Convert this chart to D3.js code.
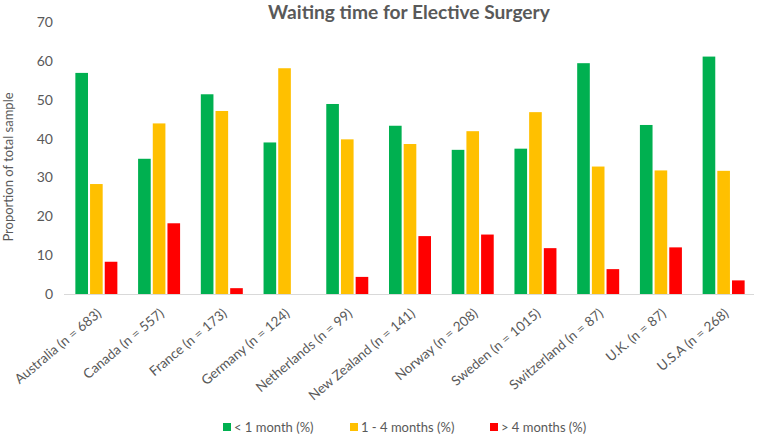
<!DOCTYPE html>
<html><head><meta charset="utf-8">
<script src="https://cdn.jsdelivr.net/npm/d3@7"></script>
<style>html,body{margin:0;padding:0;background:#fff;}</style>
</head><body>
<svg id="c" width="758" height="436"></svg>
<script>
const categories = ["Australia (n = 683)","Canada (n = 557)","France (n = 173)","Germany (n = 124)","Netherlands (n = 99)","New Zealand (n = 141)","Norway (n = 208)","Sweden (n = 1015)","Switzerland (n = 87)","U.K. (n = 87)","U.S.A (n = 268)"];
const seriesNames = ["< 1 month (%)","1 - 4 months (%)","> 4 months (%)"];
const lessThan1 = [56.9, 34.8, 51.4, 39.0, 48.9, 43.3, 37.1, 37.4, 59.4, 43.5, 61.1];
const oneToFour = [28.3, 43.9, 47.1, 58.1, 39.8, 38.6, 41.9, 46.8, 32.8, 31.8, 31.7];
const moreThan4 = [8.3, 18.2, 1.5, 0, 4.4, 14.9, 15.3, 11.8, 6.4, 12.0, 3.5];
const yTicks = [0,10,20,30,40,50,60,70];
const colors = ["#00B050","#FFC000","#FF0000"];
const title = "Waiting time for Elective Surgery";
const yTitle = "Proportion of total sample";

const series = [lessThan1, oneToFour, moreThan4];
const font = "Lato, 'Open Sans', sans-serif";
const svg = d3.select("#c");
const M = {left:64, right:754, top:22, bottom:294};

const x = d3.scaleBand().domain(categories).range([M.left, M.right]).paddingInner(0).paddingOuter(0);
const y = d3.scaleLinear().domain([0,70]).range([M.bottom, M.top]);
const inner = d3.scaleBand().domain([0,1,2]).range([-20, 22]).paddingInner(0.14);

// baseline
svg.append("line").attr("x1",M.left).attr("x2",M.right).attr("y1",y(0)+0.5).attr("y2",y(0)+0.5)
  .attr("stroke","#d9d9d9").attr("stroke-width",1);

// bars
const g = svg.append("g");
categories.forEach((c,i)=>{
  series.forEach((s,j)=>{
    if (s[i] <= 0) return;
    g.append("rect")
      .attr("x", x(c) + x.bandwidth()/2 + inner(j))
      .attr("y", y(s[i]))
      .attr("width", inner.bandwidth())
      .attr("height", y(0)-y(s[i]))
      .attr("fill", colors[j]);
  });
});

// y axis
const yAxis = d3.axisLeft(y).tickValues(yTicks).tickSize(0).tickPadding(0);
const ya = svg.append("g").attr("transform","translate(53,0)").call(yAxis);
ya.select(".domain").remove();
ya.selectAll("text").attr("font-family",font).attr("font-size",14).attr("fill","#595959");

// x axis labels
const xAxis = d3.axisBottom(x).tickSize(0).tickPadding(0);
const xa = svg.append("g").attr("transform",`translate(0,${y(0)})`).call(xAxis);
xa.select(".domain").remove();
xa.selectAll("text")
  .attr("font-family",font).attr("font-size",13.5).attr("fill","#595959")
  .attr("text-anchor","end").attr("dy",null).attr("y",0)
  .attr("transform","translate(7,21) rotate(-40)");

// y title
svg.append("text").attr("transform","translate(13,167) rotate(-90)")
  .attr("text-anchor","middle").attr("font-family",font).attr("font-size",13).attr("fill","#595959")
  .text(yTitle);

// title
const t = svg.append("text").attr("x",409).attr("y",19).attr("text-anchor","middle")
  .attr("font-family",font).attr("font-weight","bold").attr("font-size",19).attr("fill","#595959")
  .text(title);
const tw = t.node().getComputedTextLength();
t.attr("font-size", 19*282/tw);

// legend
const legX = [223, 350, 490];
const lg = svg.append("g");
seriesNames.forEach((n,j)=>{
  lg.append("rect").attr("x",legX[j]).attr("y",423).attr("width",8).attr("height",8).attr("fill",colors[j]);
  lg.append("text").attr("x",legX[j]+11).attr("y",432).attr("font-family",font).attr("font-size",13)
    .attr("fill","#595959").text(n);
});
</script>
</body></html>
